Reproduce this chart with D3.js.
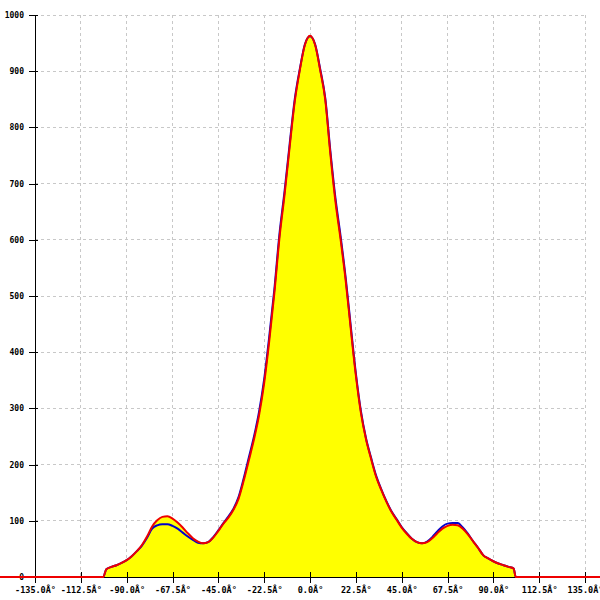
<!DOCTYPE html>
<html><head><meta charset="utf-8">
<script src="https://cdn.jsdelivr.net/npm/d3@7"></script>
<style>body{margin:0;background:#fff}svg{display:block}</style>
</head><body>
<svg id="c" width="600" height="600"></svg>
<script>
const angles = [-180,-101.5,-100,-97.5,-95,-92.5,-90,-87.5,-85,-82.5,-80,-77.5,-75,-72.5,-70,-67.5,-65,-62.5,-60,-57.5,-55,-52.5,-50,-47.5,-45,-42.5,-40,-37.5,-35,-32.5,-30,-27.5,-25,-22.5,-20,-17.5,-15,-12.5,-10,-7.5,-5,-2.5,0,2.5,5,7.5,10,12.5,15,17.5,20,22.5,25,27.5,30,32.5,35,37.5,40,42.5,45,47.5,50,52.5,55,57.5,60,62.5,65,67.5,70,72.5,75,77.5,80,82.5,85,87.5,90,92.5,95,97.5,100,101,180];
const redValues = [0,0,14,18,21,25,30,37,46,57,72,90,101,107,108,104,97,88,78,69,63,60,62,70,82,95,106,120,140,172,208,245,288,345,420,505,603,680,765,846,902,947,963,947,902,849,753,668,601,528,442,359,292,245,210,178,155,134,116,102,88,77,68,62,60,62,69,78,86,91,93,92,86,76,64,52,39,33,28,24,21,18,15,0,0];
const blueValues = [0,0,14,18,21,25,30,37,46,56,70,86,92,94,94,91,86,79,72,66,61,60,62,71,83,96,108,122,143,176,213,250,294,352,428,512,610,686,770,850,904,948,962,948,904,852,758,674,607,533,447,363,295,247,212,180,156,135,117,103,89,78,68,62,60,63,71,81,90,95,96,96,88,77,64,52,39,33,28,24,21,18,15,0,0];
const xTicks = [-135,-112.5,-90,-67.5,-45,-22.5,0,22.5,45,67.5,90,112.5,135];
const yTicks = [0,100,200,300,400,500,600,700,800,900,1000];

const svg = d3.select("#c");
const x = d3.scaleLinear().domain([-135,135]).range([35,585]);
const y = d3.scaleLinear().domain([0,1000]).range([577,15]);

// grid
svg.append("g").selectAll("line").data(xTicks).join("line")
  .attr("x1",d=>x(d)).attr("x2",d=>x(d)).attr("y1",y(1000)).attr("y2",y(0))
  .attr("stroke","#c8c8c8").attr("stroke-dasharray","3,3").attr("shape-rendering","crispEdges");
svg.append("g").selectAll("line").data(yTicks.filter(d=>d>0)).join("line")
  .attr("x1",x(-135)).attr("x2",x(135)).attr("y1",d=>y(d)).attr("y2",d=>y(d))
  .attr("stroke","#c8c8c8").attr("stroke-dasharray","3,3").attr("shape-rendering","crispEdges");

const red = angles.map((a,i)=>[a,redValues[i]]);
const blue = angles.map((a,i)=>[a,blueValues[i]]);

const area = d3.area().x(d=>x(d[0])).y0(y(0)).y1(d=>y(d[1])).curve(d3.curveMonotoneX);
const line = d3.line().x(d=>x(d[0])).y(d=>y(d[1])).curve(d3.curveMonotoneX);

svg.append("path").datum(red).attr("d",area).attr("fill","#ffff00");

// axes
const xAxis = d3.axisBottom(x).tickValues(xTicks).tickSize(0).tickFormat(d=>d.toFixed(1)+"Â°");
const gx = svg.append("g").attr("transform",`translate(0,${y(0)})`).call(xAxis);
gx.select(".domain").attr("stroke","#000");
gx.selectAll(".tick line").remove();
gx.selectAll(".tick").append("line").attr("y1",-5).attr("y2",6).attr("stroke","#000").attr("shape-rendering","crispEdges");
gx.selectAll("text").attr("dy",0).attr("y",16).attr("font-family","DejaVu Sans Mono").attr("font-weight","bold").attr("font-size","8.5px").attr("fill","#000");

const yAxis = d3.axisLeft(y).tickValues(yTicks).tickSize(0).tickFormat(d3.format("d"));
const gy = svg.append("g").attr("transform",`translate(${x(-135)},0)`).call(yAxis);
gy.select(".domain").remove();
gy.append("line").attr("y1",y(1000)).attr("y2",y(0)+6).attr("stroke","#000").attr("shape-rendering","crispEdges");
gy.selectAll(".tick line").remove();
gy.selectAll(".tick").append("line").attr("x1",-6).attr("x2",3).attr("stroke","#000").attr("shape-rendering","crispEdges");
gy.selectAll("text").attr("x",-11).attr("dy","0.32em").attr("font-family","DejaVu Sans Mono").attr("font-weight","bold").attr("font-size","8px").attr("fill","#000");

svg.append("path").datum(blue).attr("d",line).attr("fill","none").attr("stroke","#0000cc").attr("stroke-width",2);
svg.append("path").datum(red).attr("d",line).attr("fill","none").attr("stroke","#ee0000").attr("stroke-width",2);
</script>
</body></html>
